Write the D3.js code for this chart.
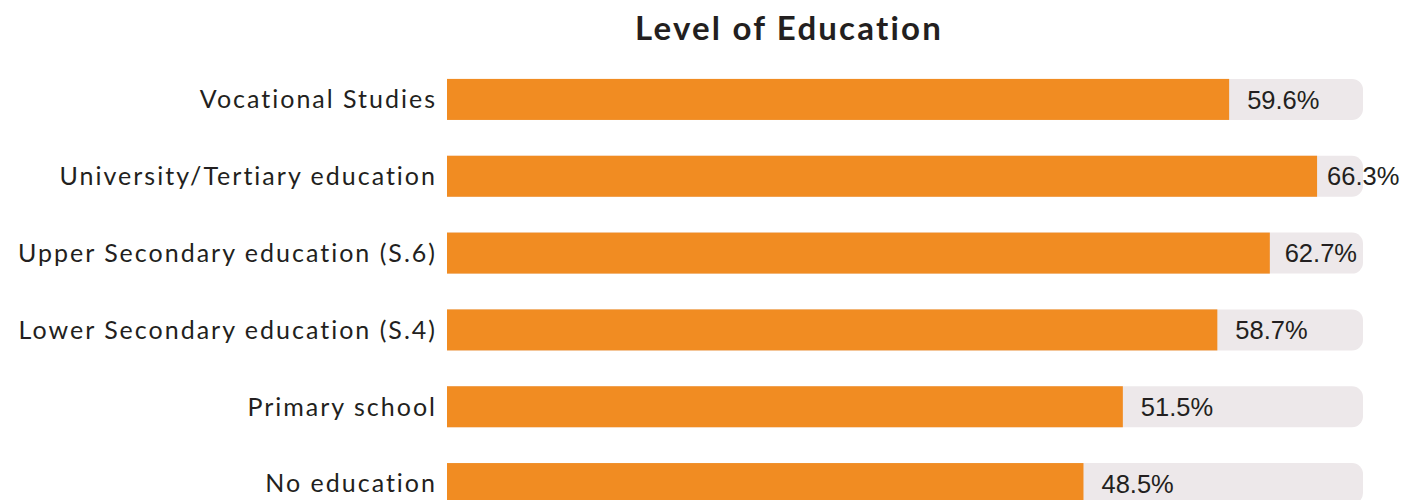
<!DOCTYPE html>
<html>
<head>
<meta charset="utf-8">
<script src="https://cdn.jsdelivr.net/npm/d3@7"></script>
<style>
  body { margin: 0; background: #fff; }
  svg { display: block; }
</style>
</head>
<body>
<svg id="chart_svg" width="1405" height="500"></svg>
<script>
// Data
var categories = ["Vocational Studies", "University/Tertiary education", "Upper Secondary education (S.6)",
                  "Lower Secondary education (S.4)", "Primary school", "No education"];
var values = [59.6, 66.3, 62.7, 58.7, 51.5, 48.5];
var maxValue = 69.8;

var chart_svg = d3.select("#chart_svg");

// Scales
const xScale = d3.scaleLinear()
    .domain([0, maxValue])
    .range([447, 1363]);

const yScale = d3.scaleBand()
    .domain(categories)
    .range([61, 522])
    .paddingInner(0.466)
    .paddingOuter(0.233);

const bw = yScale.bandwidth();
const trackEnd = xScale(maxValue);

// Title
chart_svg.append("text")
    .attr("x", 789)
    .attr("y", 40)
    .attr("text-anchor", "middle")
    .style("font-family", "Lato, 'Open Sans', sans-serif")
    .style("font-weight", "bold")
    .style("font-size", "33px")
    .style("letter-spacing", "2.2px")
    .style("fill", "#231f20")
    .text("Level of Education");

const rows = chart_svg.append("g")
    .selectAll("g")
    .data(categories)
    .enter()
    .append("g");

// Background track, rounded on the right side only
rows.append("path")
    .attr("d", function(d) {
        var x0 = xScale(0), x1 = trackEnd, y0 = yScale(d), r = 11;
        return "M" + x0 + "," + y0 + "H" + (x1 - r) +
            "A" + r + "," + r + " 0 0 1 " + x1 + "," + (y0 + r) +
            "V" + (y0 + bw - r) +
            "A" + r + "," + r + " 0 0 1 " + (x1 - r) + "," + (y0 + bw) +
            "H" + x0 + "Z";
    })
    .style("fill", "#ede8ea");

// Orange bars
rows.append("rect")
    .attr("x", xScale(0))
    .attr("y", function(d) { return yScale(d); })
    .attr("width", function(d, i) { return xScale(values[i]) - xScale(0); })
    .attr("height", bw)
    .style("fill", "#f18c22");

// Category labels
rows.append("text")
    .attr("x", 437)
    .attr("y", function(d) { return yScale(d) + bw / 2; })
    .attr("dy", "0.35em")
    .attr("text-anchor", "end")
    .style("font-family", "Lato, 'Open Sans', sans-serif")
    .style("font-size", "25px")
    .style("letter-spacing", "2px")
    .style("fill", "#231f20")
    .text(function(d) { return d; });

// Value labels
rows.append("text")
    .attr("y", function(d) { return yScale(d) + bw / 2; })
    .attr("dy", "0.36em")
    .style("font-family", "'Liberation Sans', Arial, sans-serif")
    .style("font-size", "25.5px")
    .style("fill", "#231f20")
    .text(function(d, i) { return values[i].toFixed(1) + "%"; })
    .attr("x", function(d, i) {
        var w = this.getComputedTextLength();
        var end = xScale(values[i]);
        if (end + 10 + w > trackEnd) return end + 10;
        return Math.min(end + 18, trackEnd - 6 - w);
    });
</script>
</body>
</html>
